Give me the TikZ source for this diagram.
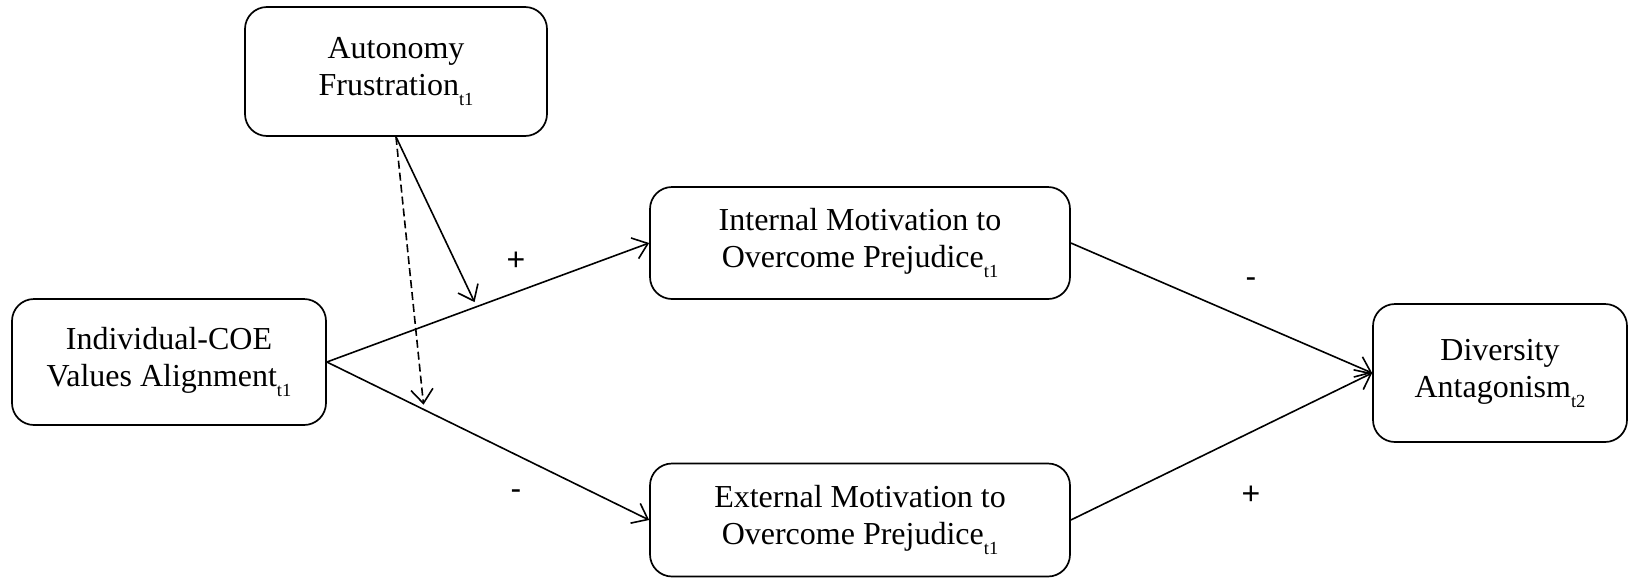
\documentclass[tikz,border=0pt]{standalone}
\usepackage{fontspec}
\setmainfont{Liberation Serif}
\newfontfamily\labfont{Liberation Sans}
\usetikzlibrary{arrows.meta,calc}
\newcommand{\subt}[1]{\raisebox{-10pt}{\fontsize{18.5}{18.5}\selectfont #1}}
\begin{document}
\begin{tikzpicture}[x=1pt,y=-1pt,
  box/.style={draw,line width=1.7pt,rounded corners=22pt,inner sep=0pt,align=center,
    font=\fontsize{32}{37}\selectfont},
  conn/.style={line width=1.6pt,-{Straight Barb[length=14pt,width=22pt,line width=1.6pt]}},
  sign/.style={font=\labfont\fontsize{32}{32}\selectfont,inner sep=0pt}]
\useasboundingbox (0,0) rectangle (1628,579);
\node[box,minimum width=302pt,minimum height=129pt] (aut) at (396,71.5) {Autonomy\\Frustration\subt{t1}};
\node[box,minimum width=314pt,minimum height=126pt] (ind) at (169,362) {Individual-COE\\Values Alignment\subt{t1}};
\node[box,minimum width=420pt,minimum height=112pt] (int) at (860,243) {Internal Motivation to\\Overcome Prejudice\subt{t1}};
\node[box,minimum width=420pt,minimum height=113pt] (ext) at (860,520) {External Motivation to\\Overcome Prejudice\subt{t1}};
\node[box,minimum width=254pt,minimum height=138pt] (div) at (1500,373) {Diversity\\Antagonism\subt{t2}};
\draw[conn] (ind.east) -- (int.west);
\draw[conn] (ind.east) -- (ext.west);
\draw[conn] (int.east) -- (div.west);
\draw[conn] (ext.east) -- (div.west);
\coordinate (m1) at ($(ind.east)!0.465!(int.west)$);
\coordinate (m2) at ($(ind.east)!0.3015!(ext.west)$);
\draw[conn,shorten >=5pt] (aut.south) -- (m1);
\draw[conn,dash pattern=on 8pt off 4pt,shorten >=5pt] (aut.south) -- (m2);
\node[sign] (p1) at (516,261) {+};
\node[sign] (n1) at (516,495) {-};
\node[sign] (n2) at (1251,283) {-};
\node[sign] (p2) at (1251,495) {+};
\end{tikzpicture}
\end{document}
